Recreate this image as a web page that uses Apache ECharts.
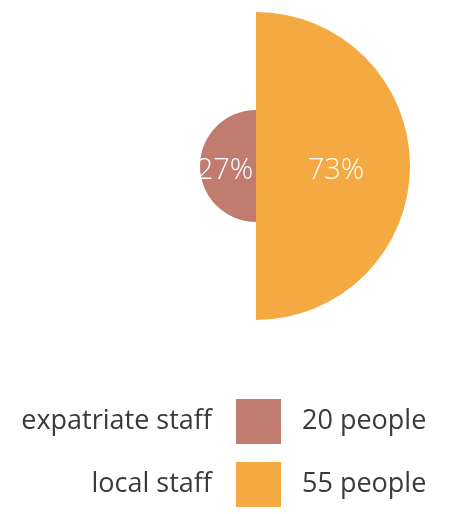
<!DOCTYPE html>
<html><head><meta charset="utf-8">
<script src="https://cdn.jsdelivr.net/npm/echarts@6/dist/echarts.min.js"></script>
<style>html,body{margin:0;padding:0;background:#fff}#c{width:453px;height:514px}</style>
</head><body><div id="c"></div>
<script>
const categories = ['expatriate staff', 'local staff'];
const values = [20, 55];
const colors = ['#c07c6e', '#f5a942'];
const unit = 'people';

const FONT = 'Open Sans';
const chart = echarts.init(document.getElementById('c'), null, {renderer: 'canvas'});
const data = categories.map((c, i) => ({name: c, value: values[i], itemStyle: {color: colors[i]}}));
const valueMap = {};
categories.forEach((c, i) => { valueMap[c] = values[i] + ' ' + unit; });

chart.setOption({
  animation: false,
  legend: [{
    orient: 'vertical',
    right: 172,
    top: 399,
    padding: 0,
    align: 'right',
    itemWidth: 45,
    itemHeight: 45,
    itemGap: 18,
    icon: 'rect',
    selectedMode: false,
    data: categories,
    textStyle: {fontFamily: FONT, fontSize: 27, color: '#3a3a3a', padding: [0, 19, 0, 0]}
  }, {
    orient: 'vertical',
    left: 297,
    top: 399,
    padding: 0,
    itemWidth: 0,
    itemHeight: 45,
    itemGap: 18,
    icon: 'rect',
    selectedMode: false,
    data: categories,
    formatter: n => valueMap[n],
    textStyle: {fontFamily: FONT, fontSize: 27, color: '#3a3a3a'}
  }],
  series: [{
    type: 'pie',
    roseType: 'area',
    center: [256, 166],
    radius: [0, 154],
    startAngle: 270,
    clockwise: true,
    data: data,
    label: {
      position: 'inner',
      formatter: p => Math.round(p.percent) + '%',
      color: '#fff',
      fontFamily: FONT,
      fontSize: 29,
      fontWeight: 300,
      offset: [0, 5]
    },
    labelLine: {show: false},
    emphasis: {disabled: true}
  }]
});
</script></body></html>
